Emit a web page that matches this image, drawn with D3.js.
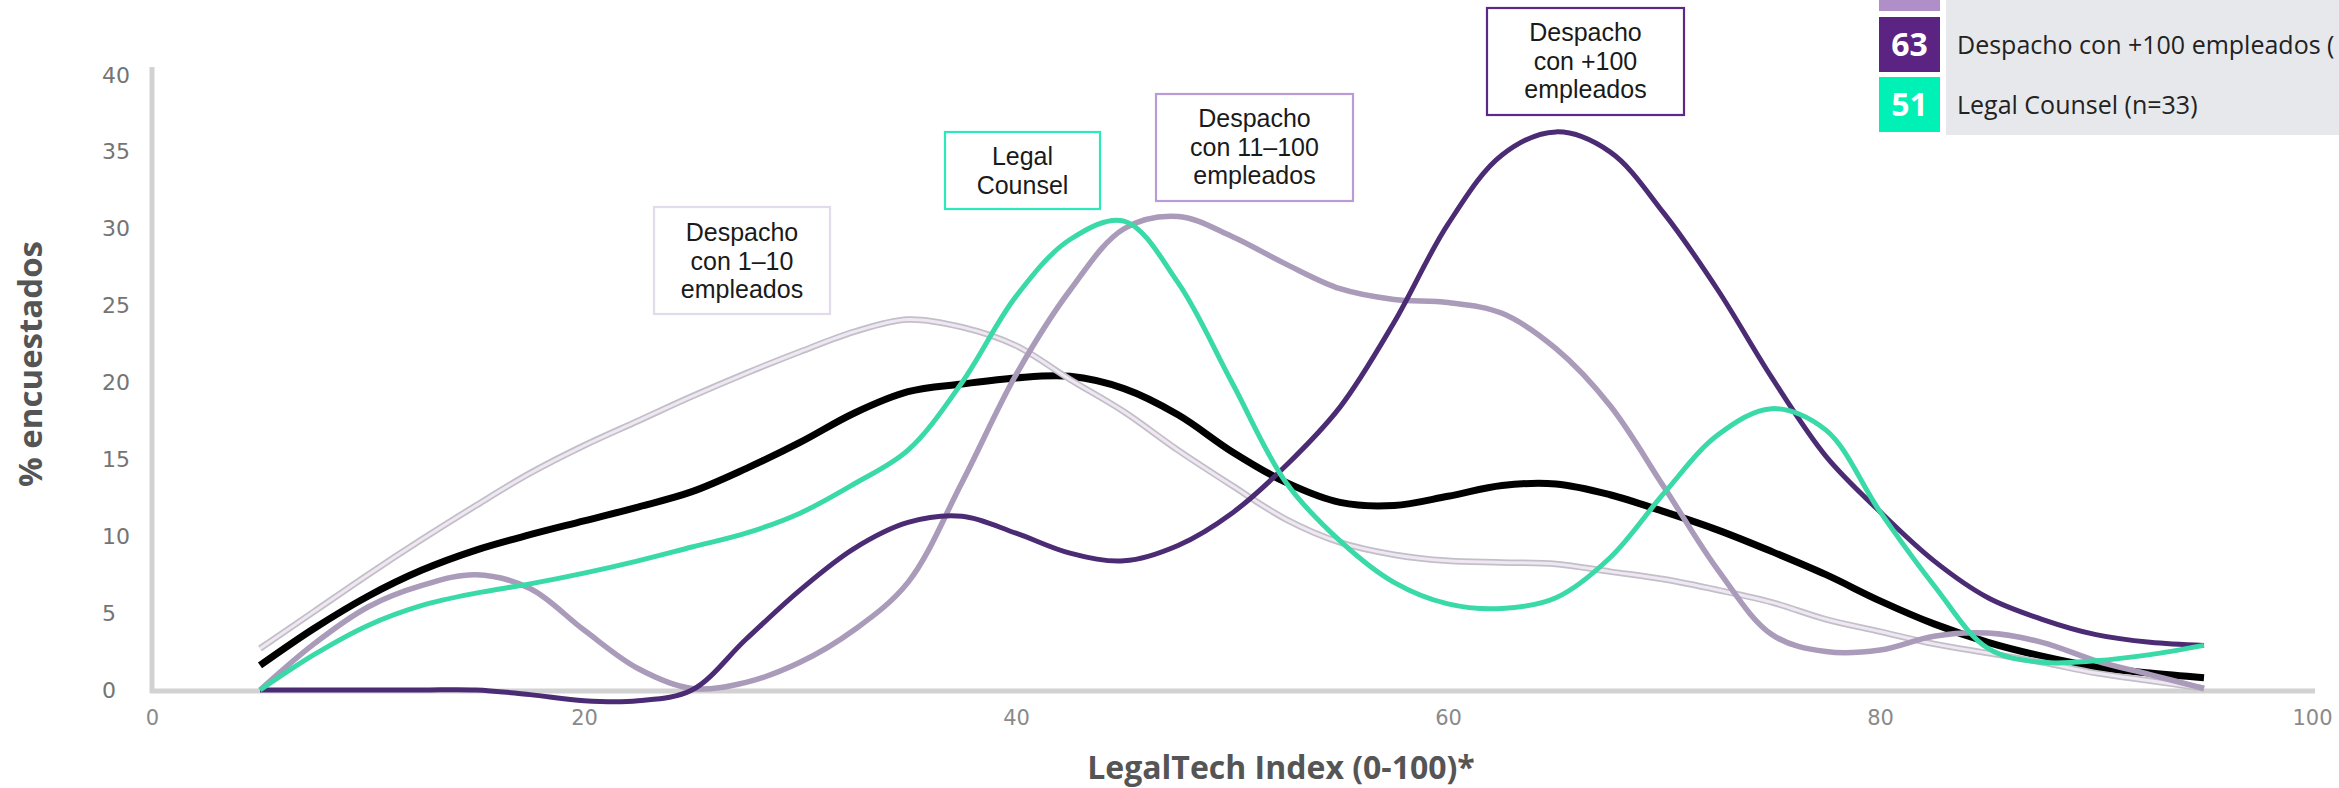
<!DOCTYPE html>
<html>
<head>
<meta charset="utf-8">
<script src="https://cdn.jsdelivr.net/npm/d3@7"></script>
<style>
  html, body { margin: 0; padding: 0; background: #ffffff; overflow: hidden; }
  svg { display: block; }
</style>
</head>
<body>
<svg id="chart" width="2339" height="788"></svg>
<script>
// LegalTech Index grid (x values where the density curves are sampled)
const indexGrid = [5, 7.5, 10, 12.5, 15, 17.5, 20, 22.5, 25, 27.5, 30, 32.5, 35, 37.5, 40,
  42.5, 45, 47.5, 50, 52.5, 55, 57.5, 60, 62.5, 65, 67.5, 70, 72.5, 75, 77.5, 80,
  82.5, 85, 87.5, 90, 92.5, 95];

// % encuestados per segment
const totalValues = [1.6, 4.0, 6.1, 7.8, 9.1, 10.1, 11.0, 11.9, 12.9, 14.4, 16.1, 18.0, 19.4, 19.9, 20.3,
  20.4, 19.6, 17.9, 15.5, 13.5, 12.2, 12.0, 12.6, 13.3, 13.4, 12.7, 11.6, 10.4, 9.0, 7.5, 5.8,
  4.3, 3.1, 2.2, 1.5, 1.1, 0.8];
const smallFirmValues = [2.7, 5.1, 7.5, 9.8, 12.0, 14.1, 15.9, 17.5, 19.1, 20.6, 22.0, 23.3, 24.1, 23.6, 22.4,
  20.2, 18.1, 15.6, 13.3, 11.1, 9.6, 8.8, 8.4, 8.3, 8.2, 7.7, 7.2, 6.5, 5.7, 4.6, 3.8,
  3.0, 2.4, 1.8, 1.1, 0.6, 0.1];
const midFirmValues = [0, 3.0, 5.4, 6.8, 7.5, 6.6, 3.9, 1.4, 0.1, 0.5, 1.8, 3.9, 7.0, 13.5, 20.5,
  26.0, 30.0, 30.8, 29.5, 27.7, 26.1, 25.4, 25.2, 24.5, 22.2, 18.5, 13.2, 7.8, 3.6, 2.5, 2.6,
  3.5, 3.7, 3.1, 1.9, 1.0, 0.1];
const largeFirmValues = [0, 0, 0, 0, 0, -0.3, -0.7, -0.7, 0, 3.3, 6.5, 9.2, 10.9, 11.3, 10.2,
  8.9, 8.4, 9.4, 11.5, 14.6, 18.4, 23.9, 30.3, 34.8, 36.3, 35.0, 31.0, 26.0, 20.3, 15.2, 11.6,
  8.4, 6.0, 4.6, 3.6, 3.1, 2.9];
const legalCounselValues = [0, 2.3, 4.2, 5.5, 6.3, 6.9, 7.6, 8.4, 9.3, 10.2, 11.5, 13.4, 15.6, 20.0, 25.6,
  29.3, 30.5, 26.5, 20.0, 13.5, 9.7, 7.0, 5.6, 5.3, 6.0, 8.6, 12.8, 16.6, 18.3, 16.9, 11.6,
  6.8, 2.7, 1.8, 1.9, 2.3, 2.9];

// Axis ticks
const xTicks = [0, 20, 40, 60, 80, 100];
const yTicks = [0, 5, 10, 15, 20, 25, 30, 35, 40];

// Legend rows (scores and labels)
const legendScores = ["", "63", "51"];
const legendLabels = ["", "Despacho con +100 empleados (", "Legal Counsel (n=33)"];

// Curve callout texts
const calloutLines = [
  ["Despacho", "con 1–10", "empleados"],
  ["Legal", "Counsel"],
  ["Despacho", "con 11–100", "empleados"],
  ["Despacho", "con +100", "empleados"]
];

// ---------------------------------------------------------------
const svg = d3.select("#chart");
const W = 2339, H = 788;

const x = d3.scaleLinear().domain([0, 100]).range([152, 2312]);
const y = d3.scaleLinear().domain([0, 40]).range([690, 75]);

const AXIS_GREY = "#d2d2d2";

// axis lines
svg.append("line")
  .attr("x1", x(0)).attr("x2", x(0))
  .attr("y1", y(40) - 8).attr("y2", y(0) + 3)
  .attr("stroke", AXIS_GREY).attr("stroke-width", 5);
svg.append("line")
  .attr("x1", x(0) - 2).attr("x2", x(100) + 3)
  .attr("y1", y(0) + 1).attr("y2", y(0) + 1)
  .attr("stroke", AXIS_GREY).attr("stroke-width", 5);

// y axis tick labels
const yAxis = svg.append("g")
  .attr("transform", `translate(${x(0)},0)`)
  .call(d3.axisLeft(y).tickValues(yTicks).tickSize(0).tickFormat(d3.format("d")));
yAxis.select(".domain").remove();
yAxis.selectAll("text")
  .attr("x", -50)
  .attr("text-anchor", "start")
  .attr("fill", "#747474")
  .style("font-family", "'DejaVu Sans', sans-serif")
  .style("font-size", "22px");

// x axis tick labels
const xAxis = svg.append("g")
  .attr("transform", `translate(0,${y(0)})`)
  .call(d3.axisBottom(x).tickValues(xTicks).tickSize(0).tickFormat(d3.format("d")));
xAxis.select(".domain").remove();
xAxis.selectAll("text")
  .attr("y", 20)
  .attr("fill", "#8a8a8a")
  .style("font-family", "'DejaVu Sans', sans-serif")
  .style("font-size", "21px");

// axis titles
svg.append("text")
  .attr("x", 1281).attr("y", 779)
  .attr("text-anchor", "middle")
  .attr("fill", "#555555")
  .style("font-family", "'Open Sans', sans-serif")
  .style("font-weight", 700)
  .style("font-size", "32px")
  .text("LegalTech Index (0-100)*");

svg.append("text")
  .attr("transform", "translate(42,364) rotate(-90)")
  .attr("text-anchor", "middle")
  .attr("fill", "#555555")
  .style("font-family", "'Open Sans', sans-serif")
  .style("font-weight", 700)
  .style("font-size", "33px")
  .text("% encuestados");

// curves
const line = d3.line()
  .x((d, i) => x(indexGrid[i]))
  .y(d => y(d))
  .curve(d3.curveCatmullRom.alpha(0.5));

const curves = svg.append("g").attr("fill", "none")
  .attr("stroke-linejoin", "round").attr("stroke-linecap", "butt");

// overall respondents
curves.append("path").attr("d", line(totalValues))
  .attr("stroke", "#000000").attr("stroke-width", 7);

// 1–10 employees: pale line with a grey edge
curves.append("path").attr("d", line(smallFirmValues))
  .attr("stroke", "#c3bfc7").attr("stroke-width", 6.5);
curves.append("path").attr("d", line(smallFirmValues))
  .attr("stroke", "#efe8f4").attr("stroke-width", 3);

// 11–100 employees
curves.append("path").attr("d", line(midFirmValues))
  .attr("stroke", "#a99bb9").attr("stroke-width", 5.5);

// +100 employees
curves.append("path").attr("d", line(largeFirmValues))
  .attr("stroke", "#4a2b74").attr("stroke-width", 5);

// Legal counsel
curves.append("path").attr("d", line(legalCounselValues))
  .attr("stroke", "#3ad9a8").attr("stroke-width", 5);

// callout boxes
const callouts = [
  { x0: 654, y0: 207, x1: 830, y1: 314, color: "#e2dbea", lines: calloutLines[0], first: 232 },
  { x0: 945, y0: 132, x1: 1100, y1: 209, color: "#2de8b8", lines: calloutLines[1], first: 156 },
  { x0: 1156, y0: 94, x1: 1353, y1: 201, color: "#b99bd8", lines: calloutLines[2], first: 118 },
  { x0: 1487, y0: 8, x1: 1684, y1: 115, color: "#5a2a88", lines: calloutLines[3], first: 32 }
];
const cg = svg.append("g");
callouts.forEach(c => {
  cg.append("rect")
    .attr("x", c.x0).attr("y", c.y0)
    .attr("width", c.x1 - c.x0).attr("height", c.y1 - c.y0)
    .attr("fill", "#ffffff").attr("stroke", c.color).attr("stroke-width", 2.2);
  c.lines.forEach((s, i) => {
    cg.append("text")
      .attr("x", (c.x0 + c.x1) / 2)
      .attr("y", c.first + i * 28.5 + 9)
      .attr("text-anchor", "middle")
      .attr("fill", "#1a1a1a")
      .style("font-family", "'Liberation Sans', Arial, sans-serif")
      .style("font-size", "25px")
      .text(s);
  });
});

// legend
const lg = svg.append("g");
lg.append("rect").attr("x", 1946).attr("y", -60).attr("width", W - 1946).attr("height", 195)
  .attr("fill", "#e7e8ec");
const legendColors = ["#b08fc8", "#5c2482", "#00f1b6"];
const rowTop = [-44, 17, 77];
legendColors.forEach((col, i) => {
  lg.append("rect").attr("x", 1879).attr("y", rowTop[i]).attr("width", 61).attr("height", 55)
    .attr("fill", col);
  lg.append("text")
    .attr("x", 1909.5).attr("y", rowTop[i] + 27.5).attr("dy", "0.36em")
    .attr("text-anchor", "middle").attr("fill", "#ffffff")
    .style("font-family", "'Open Sans', sans-serif")
    .style("font-weight", 700).style("font-size", "32px")
    .text(legendScores[i]);
  lg.append("text")
    .attr("x", 1957).attr("y", rowTop[i] + 27.5).attr("dy", "0.36em")
    .attr("fill", "#222222")
    .style("font-family", "'Open Sans', sans-serif")
    .style("font-size", "25px")
    .text(legendLabels[i]);
});
</script>
</body>
</html>
